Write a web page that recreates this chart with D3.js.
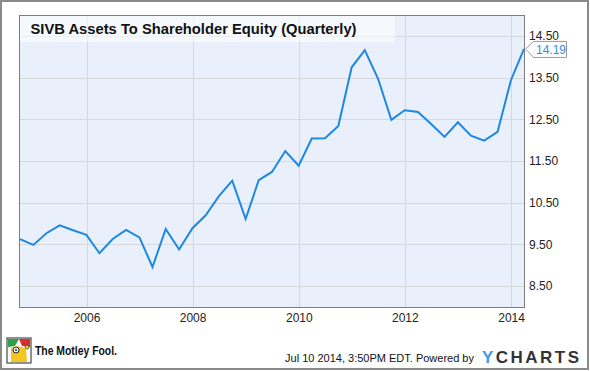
<!DOCTYPE html>
<html>
<head>
<meta charset="utf-8">
<script src="https://cdn.jsdelivr.net/npm/d3@7"></script>
<style>
  body { margin: 0; background: #fff; }
  svg { display: block; font-family: "Liberation Sans", Arial, sans-serif; }
</style>
</head>
<body>
<div id="chart"></div>
<script>
// quarterly values, SIVB assets / shareholder equity
let quarters = ["2004-09-30", "2004-12-31",
  "2005-03-31", "2005-06-30", "2005-09-30", "2005-12-31",
  "2006-03-31", "2006-06-30", "2006-09-30", "2006-12-31",
  "2007-03-31", "2007-06-30", "2007-09-30", "2007-12-31",
  "2008-03-31", "2008-06-30", "2008-09-30", "2008-12-31",
  "2009-03-31", "2009-06-30", "2009-09-30", "2009-12-31",
  "2010-03-31", "2010-06-30", "2010-09-30", "2010-12-31",
  "2011-03-31", "2011-06-30", "2011-09-30", "2011-12-31",
  "2012-03-31", "2012-06-30", "2012-09-30", "2012-12-31",
  "2013-03-31", "2013-06-30", "2013-09-30", "2013-12-31",
  "2014-03-31"];
let values = [9.63, 9.49,
  9.77, 9.96, 9.84, 9.73,
  9.29, 9.63, 9.85, 9.67,
  8.96, 9.87, 9.38, 9.89,
  10.20, 10.66, 11.03, 10.11,
  11.04, 11.24, 11.74, 11.39,
  12.04, 12.05, 12.34, 13.75,
  14.16, 13.48, 12.49, 12.72,
  12.68, 12.39, 12.08, 12.43,
  12.11, 11.99, 12.20, 13.44,
  14.19];
let yTicks = [8.5, 9.5, 10.5, 11.5, 12.5, 13.5, 14.5];
let xTicks = ["2006-01-01", "2008-01-01", "2010-01-01", "2012-01-01", "2014-01-01"];
let title = "SIVB Assets To Shareholder Equity (Quarterly)";

let parse = d3.timeParse("%Y-%m-%d");
let data = quarters.map((q, i) => ({date: parse(q), value: values[i]}));

var W = 590, H = 371;
var margin = {top: 16, right: 66, bottom: 64, left: 20},
    width = W - margin.left - margin.right,
    height = H - margin.top - margin.bottom;

var svg = d3.select("#chart").append("svg")
    .attr("width", W)
    .attr("height", H);

// outer frame
svg.append("rect")
    .attr("x", 1).attr("y", 1)
    .attr("width", 587).attr("height", 368)
    .attr("fill", "#fff")
    .attr("stroke", "#8a8a8a")
    .attr("stroke-width", 2);

var g = svg.append("g")
    .attr("transform", "translate(" + margin.left + "," + margin.top + ")");

var x = d3.scaleTime()
    .domain([data[0].date, data[data.length - 1].date])
    .range([0, width]);

var y = d3.scaleLinear()
    .domain([8.0, 14.98])
    .range([height, 0]);

g.append("rect")
    .attr("width", width).attr("height", height)
    .attr("fill", "#e9f0fb");

// horizontal grid
g.append("g")
    .selectAll("line")
    .data(yTicks)
    .enter().append("line")
    .attr("x1", 0).attr("x2", width)
    .attr("y1", d => Math.round(y(d)) + 0.5)
    .attr("y2", d => Math.round(y(d)) + 0.5)
    .attr("stroke", "#d6d8dc");

// vertical grid
g.append("g")
    .selectAll("line")
    .data(xTicks.map(parse))
    .enter().append("line")
    .attr("y1", 0).attr("y2", height)
    .attr("x1", d => Math.round(x(d)) + 0.5)
    .attr("x2", d => Math.round(x(d)) + 0.5)
    .attr("stroke", "#d6d8dc");

// title band
g.append("rect")
    .attr("x", 0).attr("y", 0)
    .attr("width", 375).attr("height", 26)
    .attr("fill", "#ffffff")
    .attr("opacity", 0.55);

g.append("text")
    .attr("x", 10.5)
    .attr("y", 18)
    .attr("font-size", "15px")
    .attr("font-weight", "bold")
    .attr("textLength", 326)
    .attr("lengthAdjust", "spacingAndGlyphs")
    .attr("fill", "#111")
    .text(title);

// the line
var line = d3.line()
    .x(d => x(d.date))
    .y(d => y(d.value));

g.append("path")
    .datum(data)
    .attr("fill", "none")
    .attr("stroke", "#1d87e4")
    .attr("stroke-width", 2)
    .attr("stroke-linejoin", "miter")
    .attr("d", line);

// plot border
g.append("rect")
    .attr("x", -0.5).attr("y", -0.5)
    .attr("width", width + 1).attr("height", height + 1)
    .attr("fill", "none")
    .attr("stroke", "#7d7d7d");

// right axis labels
var yAxis = d3.axisRight(y)
    .tickValues(yTicks)
    .tickFormat(d3.format(".2f"))
    .tickSize(0)
    .tickPadding(5);
var ya = g.append("g")
    .attr("transform", "translate(" + width + ",0)")
    .call(yAxis);
ya.select(".domain").remove();
ya.selectAll("text")
    .attr("font-size", "12px")
    .attr("font-family", "Liberation Sans, Arial, sans-serif")
    .attr("fill", "#222");

// bottom axis labels
var xAxis = d3.axisBottom(x)
    .tickValues(xTicks.map(parse))
    .tickFormat(d3.timeFormat("%Y"))
    .tickSize(0)
    .tickPadding(6);
var xa = g.append("g")
    .attr("transform", "translate(0," + height + ")")
    .call(xAxis);
xa.select(".domain").remove();
xa.selectAll("text")
    .attr("font-size", "12px")
    .attr("font-family", "Liberation Sans, Arial, sans-serif")
    .attr("fill", "#222");

// last value callout
var last = data[data.length - 1];
var lx = x(last.date), ly = y(last.value);
var callout = g.append("g")
    .attr("transform", "translate(" + lx + "," + ly + ")");
callout.append("path")
    .attr("d", "M1.5,0 L9.5,-7.5 L42.5,-7.5 L42.5,8.5 L9.5,8.5 Z")
    .attr("fill", "#fff")
    .attr("stroke", "#9a9a9a");
callout.append("text")
    .attr("x", 12)
    .attr("y", 5)
    .attr("font-size", "12px")
    .attr("fill", "#2d8fe6")
    .text(d3.format(".2f")(last.value));

// footer: Motley Fool mark (rough jester badge)
var logo = svg.append("g").attr("transform", "translate(7,338)");
logo.append("rect").attr("width", 24).attr("height", 25)
    .attr("fill", "#fff").attr("stroke", "#222").attr("stroke-width", 1);
logo.append("path").attr("d", "M1,1 L12,1 L8,8 L1,9 Z").attr("fill", "#2f9e44");
logo.append("path").attr("d", "M12,1 L23,1 L23,9 L15,8 Z").attr("fill", "#d9302c");
logo.append("path").attr("d", "M4,10 Q12,6 19,11 L20,24 L4,24 Z").attr("fill", "#f3c623");
logo.append("circle").attr("cx", 9).attr("cy", 12).attr("r", 3).attr("fill", "#fff").attr("stroke", "#222");
logo.append("circle").attr("cx", 9).attr("cy", 12).attr("r", 1.2).attr("fill", "#2a6fd6");
logo.append("circle").attr("cx", 20).attr("cy", 9).attr("r", 2).attr("fill", "#f3c623").attr("stroke", "#222").attr("stroke-width", 0.6);

svg.append("text")
    .attr("x", 35)
    .attr("y", 355)
    .attr("font-size", "13px")
    .attr("font-weight", "bold")
    .attr("textLength", 82)
    .attr("lengthAdjust", "spacingAndGlyphs")
    .attr("fill", "#111")
    .text("The Motley Fool.");

svg.append("text")
    .attr("x", 474)
    .attr("y", 361.5)
    .attr("text-anchor", "end")
    .attr("font-size", "11px")
    .attr("fill", "#111")
    .text("Jul 10 2014, 3:50PM EDT.  Powered by");

var yc = svg.append("text")
    .attr("x", 482)
    .attr("y", 362.5)
    .attr("font-size", "17px")
    .attr("font-weight", "bold")
    .attr("textLength", 97)
    .attr("lengthAdjust", "spacing");
yc.append("tspan").attr("fill", "#3a9be8").text("Y");
yc.append("tspan").attr("fill", "#333").text("CHARTS");
</script>
</body>
</html>
